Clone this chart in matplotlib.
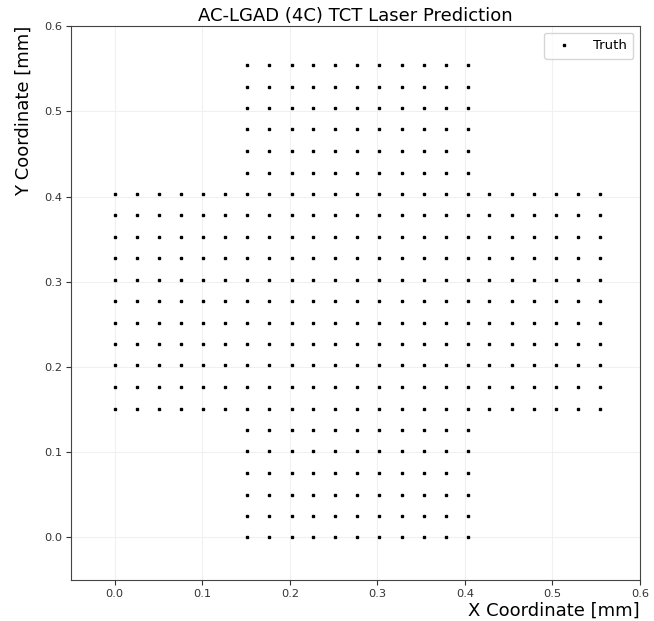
import matplotlib
matplotlib.use("Agg")
from matplotlib import pyplot as plt

# laser scan positions [mm] (same grid on both axes)
grid = [0.000, 0.025, 0.050, 0.076, 0.101, 0.126, 0.151, 0.176, 0.202, 0.227, 0.252, 0.277,
        0.302, 0.328, 0.353, 0.378, 0.403, 0.428, 0.454, 0.479, 0.504, 0.529, 0.554]
# central band of the cross (indices into grid)
band = list(range(6, 17))

# Collecting truth points of the cross
x = []
y = []
for i in range(len(grid)):
    for j in range(len(grid)):
        if i in band or j in band:
            x.append(grid[i])
            y.append(grid[j])

fig = plt.figure(figsize=(6.54, 6.21), dpi=100)
ax = fig.add_axes([0.1086, 0.066, 0.870, 0.892])

ax.plot(x, y, 's', color='black', markersize=1.6, linestyle='none', label='Truth')

ax.set_xlim(-0.05, 0.6)
ax.set_ylim(-0.05, 0.6)
ax.grid(True, color='#f0f0f0', linewidth=0.8)
ax.set_axisbelow(True)
ax.tick_params(labelsize=8.2, colors='#333333', pad=3)
for s in ax.spines.values():
    s.set_color('#444444')

ax.set_title("AC-LGAD (4C) TCT Laser Prediction", fontsize=13, pad=4)
ax.set_xlabel("X Coordinate [mm]", fontsize=13, loc='right', labelpad=2)
ax.set_ylabel("Y Coordinate [mm]", fontsize=13, loc='top', labelpad=8)
ax.legend(loc='upper right', fontsize=9.5, borderpad=0.5, handletextpad=1.2)

fig.savefig("out.png", dpi=100)
